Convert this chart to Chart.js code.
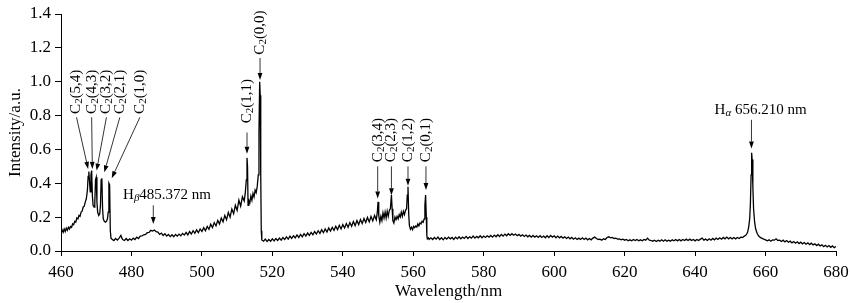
<!DOCTYPE html>
<html>
<head>
<meta charset="utf-8">
<title>Emission spectrum</title>
<script src="https://cdn.jsdelivr.net/npm/chart.js@4.4.0/dist/chart.umd.min.js"></script>
<style>
    html, body { margin: 0; padding: 0; background: #fff; }
    #wrap { width: 850px; height: 303px; }
</style>
</head>
<body>
<div id="wrap"><canvas id="chart"></canvas></div>
<script>
// Spectrum, [wavelength nm, intensity a.u.], split by region

// C2 Swan band heads, delta v = +1 sequence
const swanPlusOne = [
    [460.0,0.105],[460.3,0.125],[460.6,0.11],[460.9,0.13],[461.2,0.115],[461.5,0.135],[461.8,0.122],
    [462.1,0.14],[462.4,0.13],[462.7,0.145],[463.0,0.14],[463.3,0.16],[463.6,0.155],[463.9,0.175],
    [464.2,0.17],[464.5,0.195],[464.8,0.19],[465.1,0.21],[465.4,0.205],[465.7,0.23],[466.0,0.235],
    [466.3,0.26],[466.6,0.265],[466.9,0.29],[467.2,0.31],[467.5,0.36],[467.7,0.44],[467.9,0.47],
    [468.1,0.41],[468.3,0.35],[468.5,0.45],[468.7,0.475],[468.9,0.33],[469.1,0.27],[469.4,0.26],
    [469.6,0.29],[469.8,0.42],[470.0,0.435],[470.2,0.29],[470.4,0.23],[470.7,0.21],[471.0,0.22],
    [471.2,0.27],[471.4,0.42],[471.6,0.43],[471.8,0.25],[472.0,0.19],[472.3,0.175],[472.6,0.17],
    [472.9,0.175],[473.2,0.19],[473.4,0.23],[473.6,0.4],[473.8,0.39],[474.0,0.12],[474.2,0.075]
];

// flat stretch with the broad H-beta line
const hBetaRegion = [
    [474.5,0.07],[475,0.062],[475.5,0.074],[476,0.064],[476.5,0.076],[477,0.092],[477.3,0.076],
    [477.5,0.068],[478,0.062],[478.5,0.074],[479,0.062],[479.5,0.072],[480,0.064],[480.5,0.076],
    [481,0.068],[481.5,0.082],[482,0.074],[482.5,0.088],[483,0.09],[483.5,0.096],[484,0.098],
    [484.5,0.108],[485,0.11],[485.5,0.122],[486,0.118],[486.5,0.124],[487,0.114],[487.5,0.112],
    [488,0.098],[488.5,0.106],[489,0.092],[489.5,0.102],[490,0.088],[490.5,0.098],[491,0.085],
    [491.5,0.096],[492,0.084],[492.5,0.098],[493,0.088],[493.5,0.1],[494,0.09],[494.5,0.104],[495,0.094]
];

// rising band tail up to C2(1,1) and C2(0,0)
const swanZero = [
    [495.5,0.11],[496,0.095],[496.5,0.115],[497,0.1],[497.5,0.12],[498,0.105],[498.5,0.125],
    [499,0.108],[499.5,0.13],[500,0.115],[500.5,0.138],[501,0.12],[501.5,0.145],[502,0.128],
    [502.5,0.158],[503,0.138],[503.5,0.168],[504,0.148],[504.5,0.18],[505,0.16],[505.5,0.195],
    [506,0.172],[506.5,0.21],[507,0.185],[507.5,0.228],[508,0.2],[508.5,0.248],[509,0.22],
    [509.5,0.27],[510,0.24],[510.5,0.3],[511,0.265],[511.5,0.32],[512,0.295],[512.3,0.34],
    [512.6,0.42],[512.8,0.55],[512.95,0.5],[513.1,0.27],[513.3,0.3],[513.6,0.285],[513.9,0.325],
    [514.2,0.3],[514.5,0.34],[514.8,0.32],[515.1,0.36],[515.4,0.345],[515.7,0.38],[516.0,0.45],
    [516.2,0.7],[516.4,1.0],[516.55,0.92],[516.7,0.45],[516.85,0.12],[517.0,0.065]
];

// slow rise towards the delta v = -1 sequence
const swanMinusOneTail = [
    [517.5,0.058],[518,0.07],[518.5,0.056],[519,0.068],[519.5,0.058],[520,0.072],[520.5,0.06],
    [521,0.074],[521.5,0.062],[522,0.076],[522.5,0.064],[523,0.08],[523.5,0.068],[524,0.084],
    [524.5,0.07],[525,0.088],[525.5,0.074],[526,0.09],[526.5,0.078],[527,0.095],[527.5,0.08],
    [528,0.098],[528.5,0.084],[529,0.102],[529.5,0.088],[530,0.106],[530.5,0.092],[531,0.11],
    [531.5,0.096],[532,0.115],[532.5,0.1],[533,0.12],[533.5,0.104],[534,0.126],[534.5,0.108],
    [535,0.13],[535.5,0.112],[536,0.136],[536.5,0.118],[537,0.14],[537.5,0.122],[538,0.146],
    [538.5,0.126],[539,0.152],[539.5,0.13],[540,0.156],[540.5,0.136],[541,0.162],[541.5,0.14],
    [542,0.168],[542.5,0.146],[543,0.174],[543.5,0.15],[544,0.18],[544.5,0.156],[545,0.186],
    [545.5,0.162],[546,0.192],[546.5,0.168],[547,0.198],[547.5,0.172],[548,0.204],[548.5,0.178],
    [549,0.21],[549.5,0.185]
];

// C2 band heads, delta v = -1 sequence
const swanMinusOne = [
    [549.8,0.23],[550.0,0.29],[550.2,0.21],[550.5,0.17],[550.8,0.205],[551.1,0.18],[551.4,0.225],
    [551.7,0.195],[552.0,0.23],[552.3,0.195],[552.6,0.235],[552.9,0.205],[553.2,0.24],[553.5,0.25],
    [553.8,0.33],[554.0,0.25],[554.2,0.18],[554.5,0.165],[554.8,0.2],[555.1,0.185],[555.4,0.205],
    [555.7,0.19],[556.0,0.215],[556.3,0.2],[556.6,0.23],[556.9,0.205],[557.2,0.235],[557.5,0.215],
    [557.8,0.24],[558.1,0.25],[558.3,0.33],[558.5,0.38],[558.7,0.22],[558.9,0.15],[559.2,0.128],
    [559.5,0.14],[559.8,0.126],[560.1,0.146],[560.4,0.138],[560.7,0.148],[561.0,0.142],[561.3,0.16],
    [561.6,0.148],[561.9,0.166],[562.2,0.16],[562.5,0.176],[562.8,0.17],[563.1,0.19],[563.3,0.27],
    [563.5,0.33],[563.7,0.2],[563.85,0.09],[564.0,0.072],[564.3,0.078]
];

// long background between 564 and 654 nm
const background = [
    [564.5,0.068],[565,0.078],[565.5,0.068],[566,0.08],[566.5,0.07],[567,0.082],[567.5,0.068],
    [568,0.078],[568.5,0.066],[569,0.08],[569.5,0.07],[570,0.082],[570.5,0.072],[571,0.08],
    [571.5,0.068],[572,0.082],[572.5,0.072],[573,0.084],[573.5,0.072],[574,0.082],[574.5,0.074],
    [575,0.086],[575.5,0.074],[576,0.084],[576.5,0.076],[577,0.088],[577.5,0.076],[578,0.086],
    [578.5,0.078],[579,0.09],[579.5,0.078],[580,0.088],[580.5,0.08],[581,0.09],[581.5,0.082],
    [582,0.092],[582.5,0.082],[583,0.094],[583.5,0.084],[584,0.096],[584.5,0.086],[585,0.098],
    [585.5,0.088],[586,0.1],[586.5,0.09],[587,0.102],[587.5,0.092],[588,0.102],[588.5,0.093],
    [589,0.1],[589.5,0.09],[590,0.098],[590.5,0.088],[591,0.096],[591.5,0.086],[592,0.094],
    [592.5,0.084],[593,0.092],[593.5,0.082],[594,0.092],[594.5,0.082],[595,0.09],[595.5,0.08],
    [596,0.09],[596.5,0.08],[597,0.088],[597.5,0.078],[598,0.09],[598.5,0.08],[599,0.092],
    [599.5,0.082],[600,0.09],[600.5,0.078],[601,0.088],[601.5,0.078],[602,0.086],[602.5,0.076],
    [603,0.084],[603.5,0.074],[604,0.082],[604.5,0.072],[605,0.08],[605.5,0.07],[606,0.078],
    [606.5,0.068],[607,0.076],[607.5,0.068],[608,0.078],[608.5,0.068],[609,0.076],[609.5,0.066],
    [610,0.074],[610.5,0.066],[611,0.076],[611.5,0.082],[612,0.074],[612.5,0.068],[613,0.07],
    [613.5,0.064],[614,0.072],[614.5,0.068],[615,0.08],[615.5,0.084],[616,0.078],[616.5,0.08],
    [617,0.074],[617.5,0.076],[618,0.07],[618.5,0.072],[619,0.066],[619.5,0.07],[620,0.064],
    [620.5,0.068],[621,0.06],[621.5,0.066],[622,0.06],[622.5,0.068],[623,0.062],[623.5,0.068],
    [624,0.06],[624.5,0.066],[625,0.06],[625.5,0.068],[626,0.064],[626.5,0.076],[627,0.064],
    [627.5,0.062],[628,0.058],[628.5,0.064],[629,0.056],[629.5,0.064],[630,0.058],[630.5,0.066],
    [631,0.058],[631.5,0.066],[632,0.058],[632.5,0.064],[633,0.058],[633.5,0.066],[634,0.06],
    [634.5,0.068],[635,0.06],[635.5,0.068],[636,0.06],[636.5,0.068],[637,0.062],[637.5,0.07],
    [638,0.062],[638.5,0.07],[639,0.062],[639.5,0.068],[640,0.06],[640.5,0.068],[641,0.062],
    [641.5,0.07],[642,0.076],[642.5,0.064],[643,0.07],[643.5,0.062],[644,0.072],[644.5,0.064],
    [645,0.074],[645.5,0.066],[646,0.076],[646.5,0.068],[647,0.078],[647.5,0.07],[648,0.08],
    [648.5,0.072],[649,0.082],[649.5,0.072],[650,0.08],[650.5,0.072],[651,0.08],[651.5,0.072],
    [652,0.08],[652.5,0.074],[653,0.082],[653.5,0.08]
];

// H-alpha line and the red end
const hAlphaRegion = [
    [654,0.088],[654.5,0.095],[654.9,0.11],[655.2,0.14],[655.5,0.19],[655.7,0.28],[655.9,0.45],
    [656.05,0.58],[656.2,0.54],[656.4,0.38],[656.6,0.25],[656.9,0.17],[657.2,0.13],[657.6,0.105],
    [658,0.09],[658.5,0.08],[659,0.075],[659.5,0.07],[660,0.066],[660.5,0.06],[661,0.066],
    [661.5,0.058],[662,0.066],[662.5,0.064],[663,0.072],[663.5,0.062],[664,0.064],[664.5,0.056],
    [665,0.064],[665.5,0.054],[666,0.062],[666.5,0.052],[667,0.058],[667.5,0.048],[668,0.056],
    [668.5,0.046],[669,0.054],[669.5,0.044],[670,0.052],[670.5,0.042],[671,0.05],[671.5,0.04],
    [672,0.048],[672.5,0.038],[673,0.046],[673.5,0.036],[674,0.042],[674.5,0.032],[675,0.04],
    [675.5,0.03],[676,0.036],[676.5,0.026],[677,0.034],[677.5,0.024],[678,0.032],[678.5,0.022],
    [679,0.03],[679.5,0.02],[680,0.026]
];

// Axis ticks
const xTicks = [460, 480, 500, 520, 540, 560, 580, 600, 620, 640, 660, 680];
const yTicks = [0.0, 0.2, 0.4, 0.6, 0.8, 1.0, 1.2, 1.4];

// C2 band labels (v', v'')
const bandNames = ['(5,4)', '(4,3)', '(3,2)', '(2,1)', '(1,0)', '(1,1)', '(0,0)', '(3,4)', '(2,3)', '(1,2)', '(0,1)'];

const SERIF = '"Liberation Serif", "Times New Roman", serif';

// label placement in data units: text = bottom of rotated text, arrow from -> to
const bandMarks = [
    { text: [464.4, 0.81], from: [464.4, 0.79], to: [467.7, 0.485] },
    { text: [468.7, 0.81], from: [468.7, 0.79], to: [468.9, 0.485] },
    { text: [472.9, 0.81], from: [472.9, 0.79], to: [470.1, 0.475] },
    { text: [476.7, 0.81], from: [476.7, 0.79], to: [472.3, 0.465] },
    { text: [482.4, 0.81], from: [482.4, 0.79], to: [474.4, 0.43] },
    { text: [512.8, 0.755], from: [512.8, 0.70], to: [512.8, 0.575] },
    { text: [516.5, 1.16], from: [516.5, 1.14], to: [516.5, 1.01] },
    { text: [549.9, 0.525], from: [549.9, 0.50], to: [549.9, 0.31] },
    { text: [553.8, 0.525], from: [553.8, 0.50], to: [553.8, 0.33] },
    { text: [558.5, 0.525], from: [558.5, 0.50], to: [558.5, 0.385] },
    { text: [563.6, 0.525], from: [563.6, 0.50], to: [563.6, 0.36] }
];

const lineMarks = [
    { sub: 'β', rest: '485.372 nm', text: [490.1, 0.33], from: [486.2, 0.27], to: [486.2, 0.16] },
    { sub: 'α', rest: ' 656.210 nm', text: [658.6, 0.835], from: [656.0, 0.775], to: [656.0, 0.605] }
];

function drawArrow(ctx, x1, y1, x2, y2) {
    const head = 7, half = 2.4;
    const ang = Math.atan2(y2 - y1, x2 - x1);
    const bx = x2 - head * Math.cos(ang), by = y2 - head * Math.sin(ang);
    ctx.beginPath();
    ctx.moveTo(x1, y1);
    ctx.lineTo(bx, by);
    ctx.stroke();
    ctx.beginPath();
    ctx.moveTo(x2, y2);
    ctx.lineTo(bx + half * Math.sin(ang), by - half * Math.cos(ang));
    ctx.lineTo(bx - half * Math.sin(ang), by + half * Math.cos(ang));
    ctx.closePath();
    ctx.fill();
}

// "C2(v',v'')" written bottom to top
function drawBandLabel(ctx, band, px, py) {
    ctx.save();
    ctx.translate(px, py);
    ctx.rotate(-Math.PI / 2);
    ctx.textAlign = 'left';
    ctx.textBaseline = 'middle';
    ctx.font = '15px ' + SERIF;
    ctx.fillText('C', 0, 0);
    let w = ctx.measureText('C').width;
    ctx.font = '11px ' + SERIF;
    ctx.fillText('2', w, 3);
    w += ctx.measureText('2').width;
    ctx.font = '15px ' + SERIF;
    ctx.fillText(band, w, 0);
    ctx.restore();
}

// "H" + italic greek subscript + rest, centred on px
function drawLineLabel(ctx, sub, rest, px, py) {
    ctx.save();
    ctx.textAlign = 'left';
    ctx.textBaseline = 'middle';
    const big = '15px ' + SERIF, small = 'italic 11px ' + SERIF;
    ctx.font = big;
    const wH = ctx.measureText('H').width, wR = ctx.measureText(rest).width;
    ctx.font = small;
    const wS = ctx.measureText(sub).width;
    let x = px - (wH + wS + wR) / 2;
    ctx.font = big;
    ctx.fillText('H', x, py);
    x += wH;
    ctx.font = small;
    ctx.fillText(sub, x, py + 3);
    x += wS;
    ctx.font = big;
    ctx.fillText(rest, x, py);
    ctx.restore();
}

const spectrumLabels = {
    id: 'spectrumLabels',
    afterDatasetsDraw(chart) {
        const { ctx, scales: { x, y } } = chart;
        const px = v => x.getPixelForValue(v), py = v => y.getPixelForValue(v);
        ctx.save();
        ctx.fillStyle = '#000';
        ctx.strokeStyle = '#000';
        ctx.lineWidth = 0.8;
        bandNames.forEach((name, i) => {
            const m = bandMarks[i];
            drawArrow(ctx, px(m.from[0]), py(m.from[1]), px(m.to[0]), py(m.to[1]));
            drawBandLabel(ctx, name, px(m.text[0]), py(m.text[1]));
        });
        lineMarks.forEach(m => {
            drawArrow(ctx, px(m.from[0]), py(m.from[1]), px(m.to[0]), py(m.to[1]));
            drawLineLabel(ctx, m.sub, m.rest, px(m.text[0]), py(m.text[1]));
        });
        ctx.restore();
    }
};

const spectrum = [].concat(swanPlusOne, hBetaRegion, swanZero, swanMinusOneTail,
    swanMinusOne, background, hAlphaRegion).map(p => ({ x: p[0], y: p[1] }));

const tickFont = { family: SERIF, size: 17 };

new Chart(document.getElementById('chart'), {
    type: 'line',
    data: {
        datasets: [{
            data: spectrum,
            borderColor: '#000',
            borderWidth: 1.3,
            pointRadius: 0,
            tension: 0,
            fill: false
        }]
    },
    options: {
        responsive: true,
        maintainAspectRatio: false,
        animation: false,
        events: [],
        layout: { padding: { top: 14, right: 14, left: 0, bottom: 0 } },
        plugins: {
            legend: { display: false },
            tooltip: { enabled: false }
        },
        scales: {
            x: {
                type: 'linear',
                min: 460,
                max: 680,
                afterBuildTicks: scale => { scale.ticks = xTicks.map(v => ({ value: v })); },
                afterFit: scale => {
                    scale.height = 52;
                    scale.paddingLeft = 0;
                    scale.paddingRight = 0;
                },
                ticks: { color: '#000', font: tickFont, padding: 6, maxRotation: 0 },
                grid: { drawOnChartArea: false, drawTicks: true, tickLength: 5, color: '#000' },
                border: { display: true, color: '#000', width: 1 },
                title: {
                    display: true,
                    text: 'Wavelength/nm',
                    color: '#000',
                    font: tickFont,
                    padding: { top: 0, bottom: 1 }
                }
            },
            y: {
                type: 'linear',
                min: 0,
                max: 1.4,
                afterBuildTicks: scale => { scale.ticks = yTicks.map(v => ({ value: v })); },
                afterFit: scale => {
                    scale.width = 61;
                    scale.paddingTop = 0;
                    scale.paddingBottom = 0;
                },
                ticks: {
                    color: '#000',
                    font: tickFont,
                    padding: 4,
                    callback: v => v.toFixed(1)
                },
                grid: { drawOnChartArea: false, drawTicks: true, tickLength: 6, color: '#000' },
                border: { display: true, color: '#000', width: 1 },
                title: {
                    display: true,
                    text: 'Intensity/a.u.',
                    color: '#000',
                    font: tickFont,
                    padding: { top: 5, bottom: 0 }
                }
            }
        }
    },
    plugins: [spectrumLabels]
});
</script>
</body>
</html>
